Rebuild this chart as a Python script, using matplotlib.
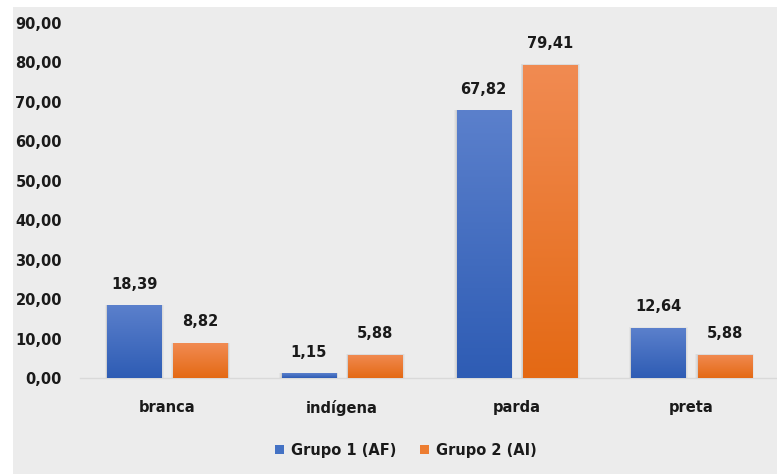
import matplotlib
matplotlib.use("Agg")
import matplotlib.pyplot as plt
import numpy as np
from matplotlib.patches import Rectangle
from matplotlib.colors import LinearSegmentedColormap

categories = ["branca", "indígena", "parda", "preta"]
grupo1 = [18.39, 1.15, 67.82, 12.64]
grupo2 = [8.82, 5.88, 79.41, 5.88]
series_labels = ["Grupo 1 (AF)", "Grupo 2 (AI)"]
yticks = [0, 10, 20, 30, 40, 50, 60, 70, 80, 90]

BG = "#ececec"
TXT = "#1a1a1a"
BLUE = ("#5b80cc", "#2e5cb4", "#4472c4")
ORANGE = ("#f18b52", "#e46914", "#ed7d31")

W, H = 777, 474
fig = plt.figure(figsize=(W / 100, H / 100), dpi=100)
fig.patch.set_facecolor("white")
fig.patches.append(Rectangle((13 / W, 0), 1, 1 - 7 / H, transform=fig.transFigure,
                             facecolor=BG, edgecolor="none", zorder=-10))

ax = fig.add_axes([80 / W, (H - 378) / H, 699 / W, 355 / H])
ax.set_facecolor("none")
ax.set_xlim(-0.5, 3.5)
ax.set_ylim(0, 90)

x = np.arange(len(categories))
bw = 0.31
off = 0.19


def grad_bars(xs, vals, cols):
    cmap = LinearSegmentedColormap.from_list("g", [cols[1], cols[0]])
    grad = np.linspace(0, 1, 256).reshape(-1, 1)
    for xi, v in zip(xs, vals):
        # soft shadow
        for k, a in [(0.014, 0.03), (0.009, 0.04), (0.005, 0.05)]:
            ax.add_patch(Rectangle((xi - bw / 2 - k, 0), bw + 2 * k, v + k * 12,
                                   facecolor="#000000", alpha=a, edgecolor="none", zorder=1))
        r = Rectangle((xi - bw / 2, 0), bw, v, facecolor="none", edgecolor="none", zorder=2)
        ax.add_patch(r)
        im = ax.imshow(grad, extent=(xi - bw / 2, xi + bw / 2, 0, v), origin="lower",
                       cmap=cmap, aspect="auto", zorder=2)
        im.set_clip_path(r)
        ax.annotate(f"{v:.2f}".replace(".", ","), (xi, v), xytext=(0, 10),
                    textcoords="offset points", ha="center", va="bottom",
                    fontsize=10.5, fontweight="bold", color=TXT)


grad_bars(x - off, grupo1, BLUE)
grad_bars(x + off, grupo2, ORANGE)
ax.set_xlim(-0.5, 3.5)
ax.set_ylim(0, 90)

ax.set_xticks(x)
ax.set_xticklabels(categories)
ax.set_yticks(yticks)
ax.set_yticklabels([f"{t:.2f}".replace(".", ",") for t in yticks])
for lab in ax.get_xticklabels() + ax.get_yticklabels():
    lab.set_fontweight("bold")
    lab.set_fontsize(10.5)
    lab.set_color(TXT)
ax.tick_params(axis="y", length=0, pad=13)
ax.tick_params(axis="x", length=0, pad=15.5)
for s in ["top", "right", "left"]:
    ax.spines[s].set_visible(False)
ax.spines["bottom"].set_color("#d9d9d9")
ax.spines["bottom"].set_linewidth(1)
ax.spines["bottom"].set_zorder(0)

handles = [Rectangle((0, 0), 1, 1, facecolor=BLUE[2]), Rectangle((0, 0), 1, 1, facecolor=ORANGE[2])]
fig.legend(handles, series_labels, loc="center", bbox_to_anchor=(406 / W, 24 / H), ncol=2,
           frameon=False, handlelength=0.6, handleheight=0.6, handletextpad=0.5,
           columnspacing=1.6, prop={"weight": "bold", "size": 10.5}, labelcolor=TXT)

fig.savefig("out.png", dpi=100)
